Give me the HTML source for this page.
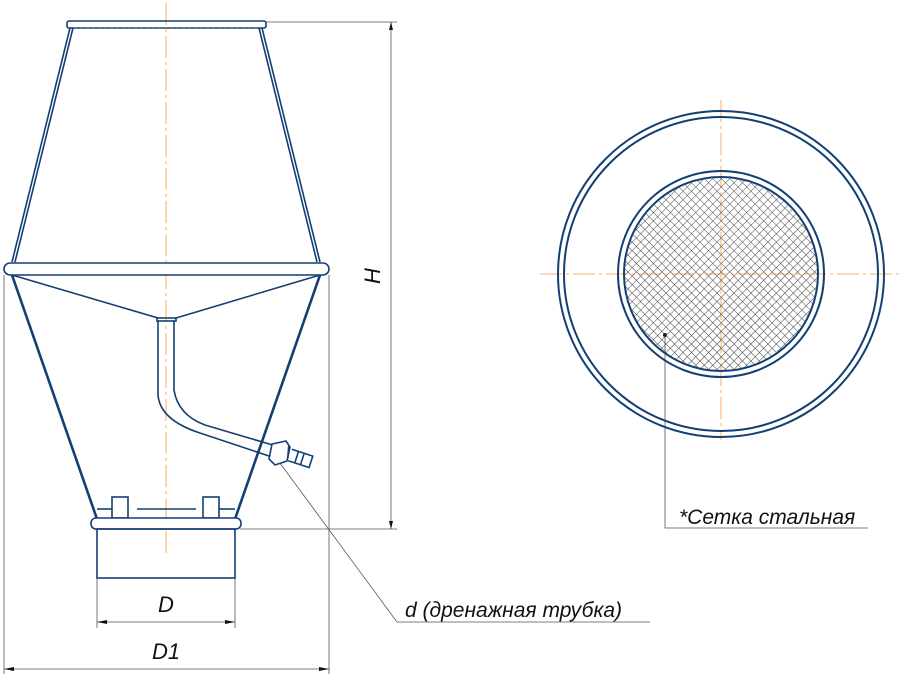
<!DOCTYPE html>
<html><head><meta charset="utf-8"><style>html,body{margin:0;padding:0;background:#fff}svg{display:block}text{font-family:"Liberation Sans",sans-serif;font-style:italic;fill:#111}</style></head><body>
<svg width="904" height="679" viewBox="0 0 904 679" xmlns="http://www.w3.org/2000/svg">
<defs>
<pattern id="mesh" width="6" height="6" patternUnits="userSpaceOnUse" patternTransform="rotate(45)">
<path d="M0 0H6M0 0V6" stroke="#444" stroke-width="1" fill="none"/>
</pattern>
<clipPath id="cc"><circle cx="721" cy="274" r="96"/></clipPath>
</defs>
<g stroke="#fdbf80" stroke-width="1.3" stroke-dasharray="22,4,3,4" fill="none">
<line x1="166" y1="3" x2="166" y2="555"/>
<line x1="721" y1="100" x2="721" y2="440"/>
<line x1="540" y1="274" x2="900" y2="274"/>
</g>
<g stroke="#555" stroke-width="0.8" fill="none">
<line x1="265" y1="22" x2="397" y2="22"/><line x1="240" y1="529" x2="397" y2="529"/>
<line x1="391" y1="22" x2="391" y2="529"/>
<line x1="97" y1="578" x2="97" y2="628"/><line x1="235" y1="578" x2="235" y2="628"/>
<line x1="97" y1="622" x2="235" y2="622"/>
<line x1="4" y1="275" x2="4" y2="674"/><line x1="329" y1="275" x2="329" y2="674"/>
<line x1="4" y1="669" x2="329" y2="669"/>
<polyline points="274,455 397,622 650,622"/>
<polyline points="665,335 665,528 868,528"/>
</g>
<g fill="#111">
<path d="M391 22l-2 8h4z"/><path d="M391 529l-2-8h4z"/>
<path d="M97 622l10-2v4z"/><path d="M235 622l-10-2v4z"/>
<path d="M4 669l10-2v4z"/><path d="M329 669l-10-2v4z"/>
<circle cx="665" cy="335" r="2"/>
</g>
<g stroke="#133f73" fill="none" stroke-width="1.6">
<rect x="67" y="21" width="199" height="7" rx="2"/>
<line x1="70" y1="28" x2="12" y2="262"/><line x1="73" y1="28" x2="15" y2="262"/>
<line x1="262" y1="28" x2="320" y2="262"/><line x1="259" y1="28" x2="317" y2="262"/>
<rect x="4" y="263" width="325" height="12" rx="6" fill="#fff"/>
<line x1="12" y1="275" x2="97" y2="519" stroke-width="2.6"/>
<line x1="320" y1="275" x2="235" y2="519" stroke-width="2.6"/>
<line x1="12" y1="275" x2="158" y2="318"/><line x1="320" y1="275" x2="176" y2="318"/>
<rect x="157" y="318" width="19" height="3"/>
<path d="M158 321V395Q160 420 200 433L272 457"/>
<path d="M174 321V390Q178 415 205 425L276 446"/>
<path d="M272 444l14-3 4 6-3 14-12 4-6-6z" fill="#fff"/>
<path d="M286 447l3 12M290 449h22v12h-22M297 449v12M303 449v12" transform="rotate(18 290 455)"/>
<rect x="112" y="497" width="16" height="21"/><rect x="203" y="497" width="16" height="21"/>
<line x1="97" y1="509" x2="112" y2="509"/><line x1="219" y1="509" x2="235" y2="509"/>
<line x1="137" y1="509" x2="196" y2="509"/>
<rect x="91" y="518" width="150" height="11" rx="5" fill="#fff"/>
<rect x="97" y="529" width="138" height="49"/>
<g stroke-width="2">
<circle cx="721" cy="274" r="163"/><circle cx="721" cy="274" r="157"/>
<circle cx="721" cy="274" r="103"/><circle cx="721" cy="274" r="97"/>
</g>
</g>
<path d="M74 28H258" stroke="#556" stroke-width="1" stroke-dasharray="3,3"/>
<rect x="620" y="170" width="205" height="210" fill="url(#mesh)" clip-path="url(#cc)"/>
<text x="166" y="612" font-size="22" text-anchor="middle">D</text>
<text x="166" y="659" font-size="22" text-anchor="middle">D1</text>
<text x="0" y="0" font-size="22" text-anchor="middle" transform="translate(380 276) rotate(-90)">H</text>
<text x="405" y="617" font-size="21">d (дренажная трубка)</text>
<text x="679" y="524" font-size="21">*Сетка стальная</text>
</svg>
</body></html>
